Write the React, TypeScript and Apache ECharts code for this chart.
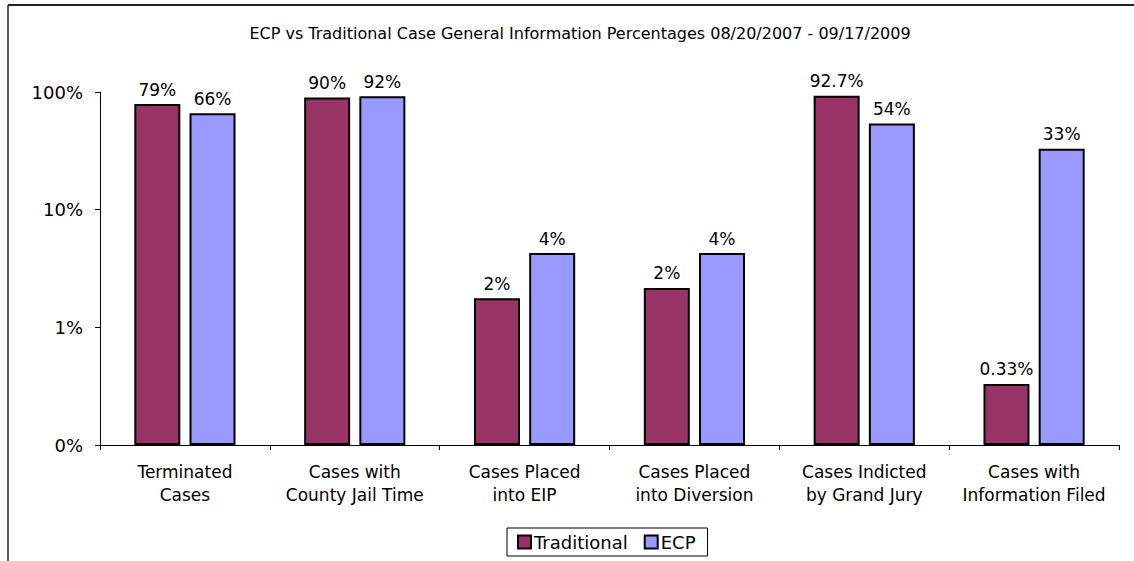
import React, { useEffect, useRef } from "react";
import * as echarts from "echarts";

const categories = [
  "Terminated\nCases",
  "Cases with\nCounty Jail Time",
  "Cases Placed\ninto EIP",
  "Cases Placed\ninto Diversion",
  "Cases Indicted\nby Grand Jury",
  "Cases with\nInformation Filed",
];
const traditional = [79, 90, 1.77, 2.16, 92.7, 0.33];
const traditionalLabels = ["79%", "90%", "2%", "2%", "92.7%", "0.33%"];
const ecp = [66, 92, 4.28, 4.28, 54, 33];
const ecpLabels = ["66%", "92%", "4%", "4%", "54%", "33%"];
const yTickLabels = ["0%", "1%", "10%", "100%"];
const yMinPercent = 0.1; // axis bottom (labelled 0%)

const FONT = "DejaVu Sans";

// log10 scale relative to the axis bottom, so bars grow from the bottom
const toLog = (v: number) => Math.log10(v / yMinPercent);

export default function App() {
  const ref = useRef<HTMLDivElement>(null);
  useEffect(() => {
    if (!ref.current) return;
    const chart = echarts.init(ref.current, null, { renderer: "svg" });
    chart.setOption({
      animation: false,
      backgroundColor: "#ffffff",
      textStyle: { fontFamily: FONT, color: "#000" },
      title: {
        text: "ECP vs Traditional Case General Information Percentages 08/20/2007 - 09/17/2009",
        left: 575,
        textAlign: "center",
        top: 20,
        textStyle: { fontFamily: FONT, fontSize: 16, fontWeight: "normal", color: "#000" },
      },
      legend: {
        left: 507,
        top: 528,
        padding: [5, 12, 5, 10],
        borderColor: "#000",
        borderWidth: 1,
        itemWidth: 13,
        itemHeight: 13,
        itemGap: 16,
        icon: "rect",
        itemStyle: { borderColor: "#000", borderWidth: 2 },
        textStyle: { fontFamily: FONT, fontSize: 18, color: "#000", padding: [0, 0, 0, -2] },
        data: ["Traditional", "ECP"],
      },
      grid: { left: 100, right: 15, top: 92, bottom: 116 },
      xAxis: {
        type: "category",
        data: categories,
        axisLine: { lineStyle: { color: "#000", width: 1 } },
        axisTick: { show: true, length: 5, lineStyle: { color: "#000" } },
        axisLabel: {
          fontFamily: FONT,
          fontSize: 17,
          color: "#000",
          margin: 15,
          lineHeight: 23,
          interval: 0,
        },
      },
      yAxis: {
        type: "value",
        min: 0,
        max: 3,
        interval: 1,
        axisLine: { show: true, lineStyle: { color: "#000", width: 1 } },
        axisTick: { show: true, length: 5, lineStyle: { color: "#000" } },
        splitLine: { show: false },
        axisLabel: {
          fontFamily: FONT,
          fontSize: 18,
          color: "#000",
          margin: 17,
          formatter: (v: number) => yTickLabels[Math.round(v)],
        },
      },
      series: [
        {
          name: "Traditional",
          type: "bar",
          data: traditional.map(toLog),
          barWidth: 46,
          barGap: "20%",
          itemStyle: { color: "#993366", borderColor: "#000", borderWidth: 2 },
          label: {
            show: true,
            position: "top",
            distance: 6,
            fontFamily: FONT,
            fontSize: 17,
            color: "#000",
            formatter: (p: any) => traditionalLabels[p.dataIndex],
          },
        },
        {
          name: "ECP",
          type: "bar",
          data: ecp.map(toLog),
          barWidth: 46,
          itemStyle: { color: "#9999FF", borderColor: "#000", borderWidth: 2 },
          label: {
            show: true,
            position: "top",
            distance: 6,
            fontFamily: FONT,
            fontSize: 17,
            color: "#000",
            formatter: (p: any) => ecpLabels[p.dataIndex],
          },
        },
      ],
      graphic: [
        {
          type: "line",
          shape: { x1: 8, y1: 5, x2: 1134, y2: 5 },
          style: { stroke: "#222", lineWidth: 2 },
        },
        {
          type: "line",
          shape: { x1: 8, y1: 5, x2: 8, y2: 561 },
          style: { stroke: "#222", lineWidth: 1.5 },
        },
      ],
    });
    return () => chart.dispose();
  }, []);
  return (
    <div
      ref={ref}
      style={{ position: "absolute", left: 0, top: 0, width: 1134, height: 561 }}
    />
  );
}
